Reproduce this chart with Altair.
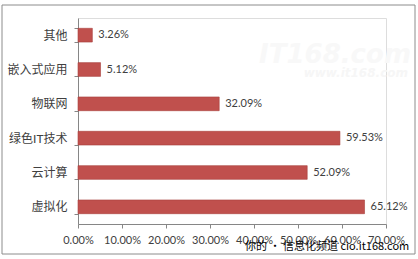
import altair as alt
import pandas as pd

# Survey shares of hot IT technologies (percent)
categories = ["其他", "嵌入式应用", "物联网", "绿色IT技术", "云计算", "虚拟化"]
values = [3.26, 5.12, 32.09, 59.53, 52.09, 65.12]
x_ticks = [0, 10, 20, 30, 40, 50, 60, 70]

df = pd.DataFrame({"cat": categories, "val": values})
df["label"] = [f"{v:.2f}%" for v in values]

FONT = "Lato, Noto Sans CJK SC"
TEXT = "#404040"
BAR = "#C0504D"

base = alt.Chart(df)

y_enc = alt.Y(
    "cat:N",
    sort=categories,
    scale=alt.Scale(paddingInner=0.6, paddingOuter=0.3),
    axis=alt.Axis(
        title=None, tickBand="extent", tickSize=4, labelPadding=7,
        domainColor="#868686", tickColor="#868686",
        labelFont=FONT, labelFontSize=12, labelColor=TEXT,
    ),
)

bars = base.mark_bar(color=BAR, stroke="#A8403D", strokeWidth=0.6).encode(
    x=alt.X(
        "val:Q",
        scale=alt.Scale(domain=[0, 70], nice=False),
        axis=alt.Axis(
            title=None, values=x_ticks, grid=False, tickSize=4, labelPadding=6,
            labelOverlap=False, labelFlush=False,
            domainColor="#868686", tickColor="#868686",
            labelExpr="format(datum.value, '.2f') + '%'",
            labelFont=FONT, labelFontSize=11, labelColor=TEXT,
        ),
    ),
    y=y_enc,
)

labels = base.mark_text(
    align="left", baseline="middle", dx=6, font=FONT, fontSize=11, color=TEXT
).encode(x="val:Q", y=alt.Y("cat:N", sort=categories), text="label:N")

one = alt.Data(values=[{}])

frame = alt.Chart(one).mark_rect(fill=None, stroke="#8c8c8c", strokeWidth=1).encode(
    x=alt.value(-76), x2=alt.value(337), y=alt.value(-13), y2=alt.value(236)
)

wm1 = alt.Chart(one).mark_text(
    text="IT168.com", align="right", baseline="middle", font="DejaVu Sans",
    fontSize=26, fontStyle="italic", fontWeight="bold", color="#f8f8f8"
).encode(x=alt.value(333), y=alt.value(37))

wm2 = alt.Chart(one).mark_text(
    text="www.it168.com", align="right", baseline="middle", font="DejaVu Sans",
    fontSize=12, fontStyle="italic", fontWeight="bold", color="#f6f6f6"
).encode(x=alt.value(330), y=alt.value(55))

stamp = alt.Chart(one).mark_text(
    text="你的 • 信息化频道  cio.it168.com", align="left", baseline="middle",
    font="Noto Sans CJK SC", fontSize=11, color="#000000"
).encode(x=alt.value(167), y=alt.value(229))

chart = alt.layer(wm1, wm2, bars, labels, frame, stamp).properties(
    width=308, height=206,
    autosize=alt.AutoSizeParams(type="none"),
    padding={"left": 78, "top": 18, "right": 32, "bottom": 35},
).configure_view(stroke=None).configure(background="white")

chart.save("out.html", embed_options={"renderer": "svg", "actions": False})
